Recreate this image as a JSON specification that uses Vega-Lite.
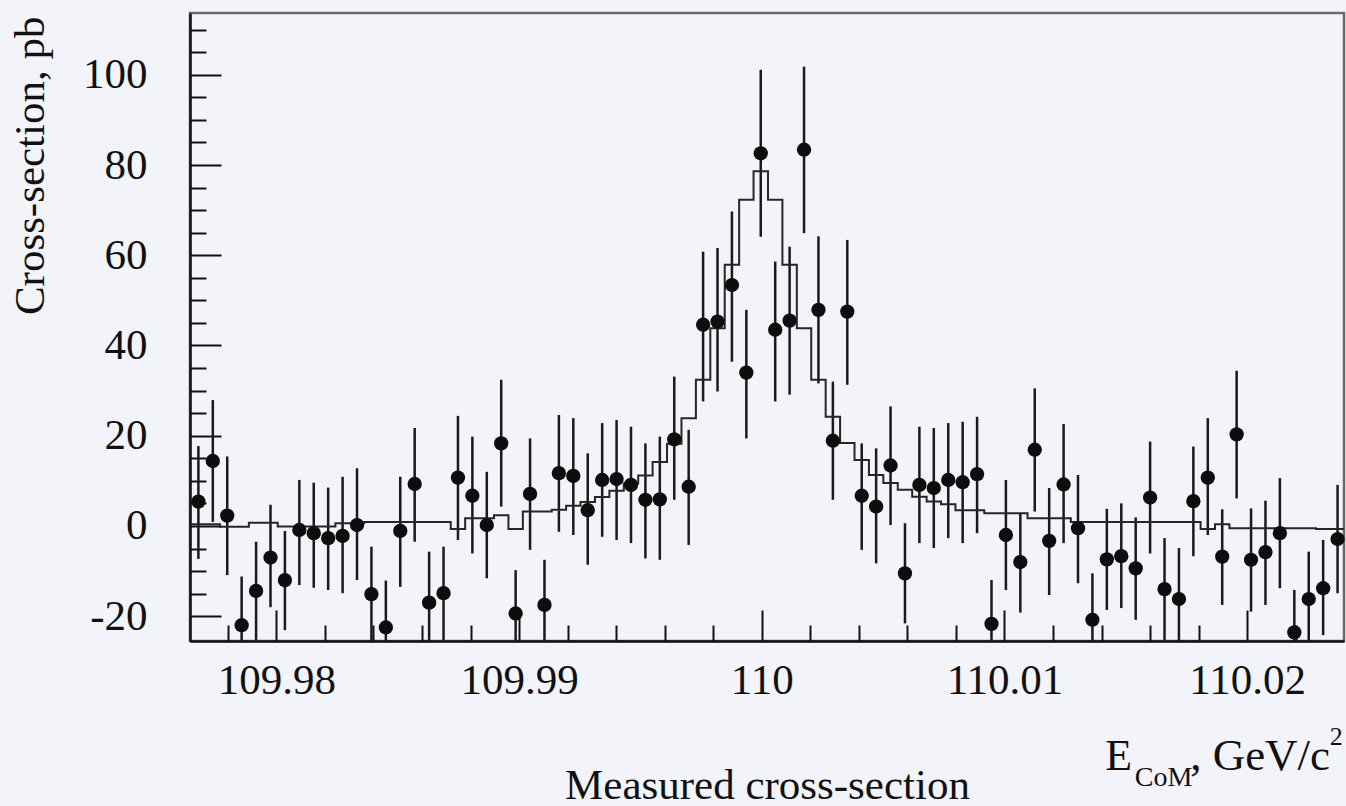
{
  "$schema": "https://vega.github.io/schema/vega-lite/v6.json",
  "autosize": {"type": "none"},
  "padding": {"left": 190, "top": 13, "right": 2, "bottom": 165},
  "width": 1154,
  "height": 628,
  "background": "#f3f3fa",
  "config": {
    "font": "Liberation Serif",
    "view": {"stroke": "#6a6a6a", "strokeWidth": 2.5}
  },
  "resolve": {"axis": {"x": "independent", "y": "independent"}},
  "datasets": {
    "points": [
      {"e": 109.976786, "v": 5.4, "lo": -7.3, "hi": 17.7},
      {"e": 109.977380, "v": 14.4, "lo": 0.9, "hi": 27.9},
      {"e": 109.977974, "v": 2.3, "lo": -10.9, "hi": 15.4},
      {"e": 109.978568, "v": -22.0, "lo": -32.7, "hi": -11.2},
      {"e": 109.979163, "v": -14.4, "lo": -25.3, "hi": -3.5},
      {"e": 109.979757, "v": -7.0, "lo": -18.0, "hi": 4.7},
      {"e": 109.980351, "v": -12.0, "lo": -23.1, "hi": -1.1},
      {"e": 109.980945, "v": -0.9, "lo": -13.1, "hi": 10.2},
      {"e": 109.981539, "v": -1.6, "lo": -13.7, "hi": 9.6},
      {"e": 109.982133, "v": -2.7, "lo": -14.2, "hi": 8.5},
      {"e": 109.982728, "v": -2.2, "lo": -14.9, "hi": 10.9},
      {"e": 109.983322, "v": 0.2, "lo": -12.0, "hi": 12.8},
      {"e": 109.983916, "v": -15.1, "lo": -25.7, "hi": -4.6},
      {"e": 109.984510, "v": -22.5, "lo": -32.8, "hi": -12.1},
      {"e": 109.985104, "v": -1.1, "lo": -13.5, "hi": 10.9},
      {"e": 109.985698, "v": 9.3, "lo": -3.5, "hi": 21.7},
      {"e": 109.986293, "v": -17.0, "lo": -28.3, "hi": -5.7},
      {"e": 109.986887, "v": -14.9, "lo": -25.3, "hi": -4.6},
      {"e": 109.987481, "v": 10.7, "lo": -3.1, "hi": 24.4},
      {"e": 109.988075, "v": 6.7, "lo": -6.1, "hi": 19.8},
      {"e": 109.988669, "v": 0.2, "lo": -11.6, "hi": 12.0},
      {"e": 109.989263, "v": 18.3, "lo": 4.3, "hi": 32.4},
      {"e": 109.989858, "v": -19.4, "lo": -29.0, "hi": -9.8},
      {"e": 109.990452, "v": 7.1, "lo": -5.3, "hi": 19.4},
      {"e": 109.991046, "v": -17.5, "lo": -27.5, "hi": -7.5},
      {"e": 109.991640, "v": 11.7, "lo": -1.3, "hi": 24.6},
      {"e": 109.992234, "v": 11.1, "lo": -2.0, "hi": 23.9},
      {"e": 109.992828, "v": 3.5, "lo": -8.6, "hi": 16.1},
      {"e": 109.993423, "v": 10.2, "lo": -2.4, "hi": 22.8},
      {"e": 109.994017, "v": 10.4, "lo": -3.1, "hi": 23.5},
      {"e": 109.994611, "v": 9.1, "lo": -3.8, "hi": 22.0},
      {"e": 109.995205, "v": 5.8, "lo": -7.2, "hi": 18.3},
      {"e": 109.995799, "v": 5.9, "lo": -7.5, "hi": 19.8},
      {"e": 109.996393, "v": 19.2, "lo": 5.8, "hi": 33.1},
      {"e": 109.996988, "v": 8.7, "lo": -4.2, "hi": 21.3},
      {"e": 109.997582, "v": 44.6, "lo": 27.6, "hi": 60.8},
      {"e": 109.998176, "v": 45.3, "lo": 29.8, "hi": 61.6},
      {"e": 109.998770, "v": 53.4, "lo": 36.4, "hi": 69.7},
      {"e": 109.999364, "v": 34.0, "lo": 19.4, "hi": 47.9},
      {"e": 109.999958, "v": 82.6, "lo": 64.1, "hi": 101.1},
      {"e": 110.000553, "v": 43.5, "lo": 27.6, "hi": 58.6},
      {"e": 110.001147, "v": 45.5, "lo": 29.1, "hi": 61.9},
      {"e": 110.001741, "v": 83.4, "lo": 64.9, "hi": 101.8},
      {"e": 110.002335, "v": 47.9, "lo": 31.6, "hi": 64.2},
      {"e": 110.002929, "v": 18.9, "lo": 5.8, "hi": 32.0},
      {"e": 110.003523, "v": 47.5, "lo": 31.3, "hi": 63.4},
      {"e": 110.004118, "v": 6.7, "lo": -5.3, "hi": 18.3},
      {"e": 110.004712, "v": 4.3, "lo": -8.3, "hi": 17.2},
      {"e": 110.005306, "v": 13.4, "lo": 0.2, "hi": 26.5},
      {"e": 110.005900, "v": -10.5, "lo": -21.6, "hi": 0.6},
      {"e": 110.006494, "v": 9.1, "lo": -3.8, "hi": 22.0},
      {"e": 110.007088, "v": 8.4, "lo": -4.9, "hi": 21.7},
      {"e": 110.007683, "v": 10.2, "lo": -2.7, "hi": 22.8},
      {"e": 110.008277, "v": 9.7, "lo": -3.8, "hi": 23.1},
      {"e": 110.008871, "v": 11.5, "lo": -1.6, "hi": 24.2},
      {"e": 110.009465, "v": -21.7, "lo": -31.5, "hi": -12.0},
      {"e": 110.010059, "v": -2.0, "lo": -14.2, "hi": 10.2},
      {"e": 110.010653, "v": -8.0, "lo": -19.2, "hi": 2.9},
      {"e": 110.011248, "v": 16.9, "lo": 3.2, "hi": 30.5},
      {"e": 110.011842, "v": -3.3, "lo": -15.3, "hi": 8.4},
      {"e": 110.012436, "v": 9.2, "lo": -3.8, "hi": 22.6},
      {"e": 110.013030, "v": -0.5, "lo": -12.7, "hi": 11.3},
      {"e": 110.013624, "v": -20.8, "lo": -31.2, "hi": -10.5},
      {"e": 110.014218, "v": -7.4, "lo": -18.6, "hi": 3.8},
      {"e": 110.014813, "v": -6.7, "lo": -18.2, "hi": 5.0},
      {"e": 110.015407, "v": -9.4, "lo": -20.8, "hi": 1.9},
      {"e": 110.016001, "v": 6.3, "lo": -6.1, "hi": 18.7},
      {"e": 110.016595, "v": -14.0, "lo": -25.3, "hi": -2.7},
      {"e": 110.017189, "v": -16.2, "lo": -27.6, "hi": -4.9},
      {"e": 110.017783, "v": 5.5, "lo": -6.7, "hi": 17.6},
      {"e": 110.018378, "v": 10.7, "lo": -2.0, "hi": 23.9},
      {"e": 110.018972, "v": -6.8, "lo": -17.5, "hi": 3.7},
      {"e": 110.019566, "v": 20.3, "lo": 6.1, "hi": 34.4},
      {"e": 110.020160, "v": -7.5, "lo": -19.0, "hi": 3.9},
      {"e": 110.020754, "v": -5.8, "lo": -17.5, "hi": 5.6},
      {"e": 110.021348, "v": -1.6, "lo": -13.8, "hi": 10.6},
      {"e": 110.021943, "v": -23.6, "lo": -33.0, "hi": -14.2},
      {"e": 110.022537, "v": -16.2, "lo": -26.8, "hi": -5.7},
      {"e": 110.023131, "v": -13.8, "lo": -24.2, "hi": -3.1},
      {"e": 110.023725, "v": -2.9, "lo": -14.9, "hi": 9.1}
    ],
    "fit": [
      {"e": 109.976489, "f": 0.4}, {"e": 109.977083, "f": 0.4}, {"e": 109.977677, "f": -0.2},
      {"e": 109.978271, "f": -0.2}, {"e": 109.978866, "f": 0.7}, {"e": 109.979460, "f": 0.7},
      {"e": 109.980054, "f": -0.1}, {"e": 109.980648, "f": -0.1}, {"e": 109.981242, "f": -0.1},
      {"e": 109.981836, "f": -0.1}, {"e": 109.982431, "f": 0.6}, {"e": 109.983025, "f": 0.6},
      {"e": 109.983619, "f": 0.9}, {"e": 109.984213, "f": 0.9}, {"e": 109.984807, "f": 0.9},
      {"e": 109.985401, "f": 0.9}, {"e": 109.985996, "f": 0.9}, {"e": 109.986590, "f": 0.9},
      {"e": 109.987184, "f": -0.7}, {"e": 109.987778, "f": 1.7}, {"e": 109.988372, "f": 1.7},
      {"e": 109.988966, "f": 2.4}, {"e": 109.989561, "f": -0.7}, {"e": 109.990155, "f": 3.2},
      {"e": 109.990749, "f": 3.2}, {"e": 109.991343, "f": 3.6}, {"e": 109.991937, "f": 4.5},
      {"e": 109.992531, "f": 5.3}, {"e": 109.993126, "f": 6.4}, {"e": 109.993720, "f": 7.8},
      {"e": 109.994314, "f": 9.4}, {"e": 109.994908, "f": 11.2}, {"e": 109.995502, "f": 14.2},
      {"e": 109.996096, "f": 18.2}, {"e": 109.996691, "f": 23.9}, {"e": 109.997285, "f": 32.4},
      {"e": 109.997879, "f": 43.8}, {"e": 109.998473, "f": 57.9}, {"e": 109.999067, "f": 72.3},
      {"e": 109.999661, "f": 78.6}, {"e": 110.000256, "f": 72.3}, {"e": 110.000850, "f": 57.9},
      {"e": 110.001444, "f": 43.8}, {"e": 110.002038, "f": 32.4}, {"e": 110.002632, "f": 24.2},
      {"e": 110.003226, "f": 18.4}, {"e": 110.003821, "f": 14.6}, {"e": 110.004415, "f": 11.3},
      {"e": 110.005009, "f": 9.5}, {"e": 110.005603, "f": 8.0}, {"e": 110.006197, "f": 6.5},
      {"e": 110.006791, "f": 5.4}, {"e": 110.007386, "f": 4.8}, {"e": 110.007980, "f": 3.5},
      {"e": 110.008574, "f": 3.5}, {"e": 110.009168, "f": 2.8}, {"e": 110.009762, "f": 2.8},
      {"e": 110.010356, "f": 2.8}, {"e": 110.010951, "f": 1.7}, {"e": 110.011545, "f": 1.7},
      {"e": 110.012139, "f": 1.7}, {"e": 110.012733, "f": 0.9}, {"e": 110.013327, "f": 0.9},
      {"e": 110.013921, "f": 0.9}, {"e": 110.014516, "f": 0.9}, {"e": 110.015110, "f": 0.9},
      {"e": 110.015704, "f": 0.9}, {"e": 110.016298, "f": 0.9}, {"e": 110.016892, "f": 0.9},
      {"e": 110.017486, "f": 0.9}, {"e": 110.018081, "f": -0.7}, {"e": 110.018675, "f": 0.4},
      {"e": 110.019269, "f": -0.5}, {"e": 110.019863, "f": -0.5}, {"e": 110.020457, "f": -0.5},
      {"e": 110.021051, "f": -0.5}, {"e": 110.021646, "f": -0.5}, {"e": 110.022240, "f": -0.5},
      {"e": 110.022834, "f": -0.7}, {"e": 110.023428, "f": -0.7}, {"e": 110.024022, "f": -0.7}
    ]
  },
  "layer": [
    {
      "data": {"name": "points"},
      "mark": {"type": "rule", "clip": true, "color": "#1a1a1a", "strokeWidth": 2.5},
      "encoding": {
        "x": {
          "field": "e", "type": "quantitative",
          "scale": {"domain": [109.97644, 110.02399], "nice": false, "zero": false},
          "axis": {
            "orient": "bottom",
            "title": "Measured cross-section",
            "values": [109.98, 109.99, 110, 110.01, 110.02],
            "grid": false,
            "domainColor": "#111", "domainWidth": 2.5,
            "ticks": true, "tickSize": -31, "tickColor": "#111", "tickWidth": 2,
            "format": ".2~f",
            "labelFont": "Liberation Serif", "labelFontSize": 43, "labelColor": "#111",
            "labelPadding": 49, "labelFlush": false, "labelOverlap": false,
            "titleFont": "Liberation Serif", "titleFontSize": 43, "titleFontWeight": "normal", "titleColor": "#111",
            "titleBaseline": "alphabetic", "titleY": 157
          }
        },
        "y": {
          "field": "lo", "type": "quantitative",
          "scale": {"domain": [-25.5, 113.7], "nice": false, "zero": false},
          "axis": {
            "orient": "left",
            "title": "Cross-section, pb",
            "values": [-20, 0, 20, 40, 60, 80, 100],
            "grid": false,
            "domainColor": "#111", "domainWidth": 2.5,
            "ticks": true, "tickSize": -31, "tickColor": "#111", "tickWidth": 2,
            "labelExpr": "'' + datum.value",
            "labelFont": "Liberation Serif", "labelFontSize": 43, "labelColor": "#111",
            "labelPadding": 74, "labelFlush": false, "labelOverlap": false,
            "titleFont": "Liberation Serif", "titleFontSize": 43, "titleFontWeight": "normal", "titleColor": "#111",
            "titleAngle": -90, "titleAlign": "right", "titleBaseline": "middle",
            "titleX": -160, "titleY": 3
          }
        },
        "y2": {"field": "hi"}
      }
    },
    {
      "data": {"name": "fit"},
      "mark": {"type": "line", "interpolate": "step-after", "clip": true, "color": "#262626", "strokeWidth": 2},
      "encoding": {
        "x": {
          "field": "e", "type": "quantitative",
          "scale": {"domain": [109.97644, 110.02399], "nice": false, "zero": false},
          "axis": {
            "orient": "bottom",
            "title": null,
            "values": [109.978, 109.982, 109.984, 109.986, 109.988, 109.992, 109.994, 109.996, 109.998, 110.002, 110.004, 110.006, 110.008, 110.012, 110.014, 110.016, 110.018, 110.022],
            "grid": false, "domain": false, "labels": false,
            "ticks": true, "tickSize": -16, "tickColor": "#111", "tickWidth": 2
          }
        },
        "y": {
          "field": "f", "type": "quantitative",
          "scale": {"domain": [-25.5, 113.7], "nice": false, "zero": false},
          "axis": {
            "orient": "left",
            "title": null,
            "values": [-15, -10, -5, 5, 10, 15, 25, 30, 35, 45, 50, 55, 65, 70, 75, 85, 90, 95, 105, 110],
            "grid": false, "domain": false, "labels": false,
            "ticks": true, "tickSize": -16, "tickColor": "#111", "tickWidth": 2
          }
        }
      }
    },
    {
      "data": {"name": "points"},
      "mark": {"type": "circle", "size": 205, "color": "#0d0d0d", "opacity": 1},
      "encoding": {
        "x": {"field": "e", "type": "quantitative", "axis": null},
        "y": {"field": "v", "type": "quantitative", "axis": null}
      }
    },
    {
      "data": {"values": [{}]},
      "mark": {"type": "text", "text": "E", "align": "left", "baseline": "alphabetic", "fontSize": 44, "font": "Liberation Serif", "color": "#111"},
      "encoding": {
        "x": {"datum": 110.01415, "type": "quantitative", "axis": null},
        "y": {"datum": -54.1, "type": "quantitative", "axis": null}
      }
    },
    {
      "data": {"values": [{}]},
      "mark": {"type": "text", "text": "CoM", "align": "left", "baseline": "alphabetic", "fontSize": 28, "font": "Liberation Serif", "color": "#111"},
      "encoding": {
        "x": {"datum": 110.01537, "type": "quantitative", "axis": null},
        "y": {"datum": -57.6, "type": "quantitative", "axis": null}
      }
    },
    {
      "data": {"values": [{}]},
      "mark": {"type": "text", "text": ", GeV/c", "align": "left", "baseline": "alphabetic", "fontSize": 45, "font": "Liberation Serif", "color": "#111"},
      "encoding": {
        "x": {"datum": 110.01765, "type": "quantitative", "axis": null},
        "y": {"datum": -54.1, "type": "quantitative", "axis": null}
      }
    },
    {
      "data": {"values": [{}]},
      "mark": {"type": "text", "text": "2", "align": "left", "baseline": "alphabetic", "fontSize": 26, "font": "Liberation Serif", "color": "#111"},
      "encoding": {
        "x": {"datum": 110.0234, "type": "quantitative", "axis": null},
        "y": {"datum": -48.5, "type": "quantitative", "axis": null}
      }
    }
  ]
}
